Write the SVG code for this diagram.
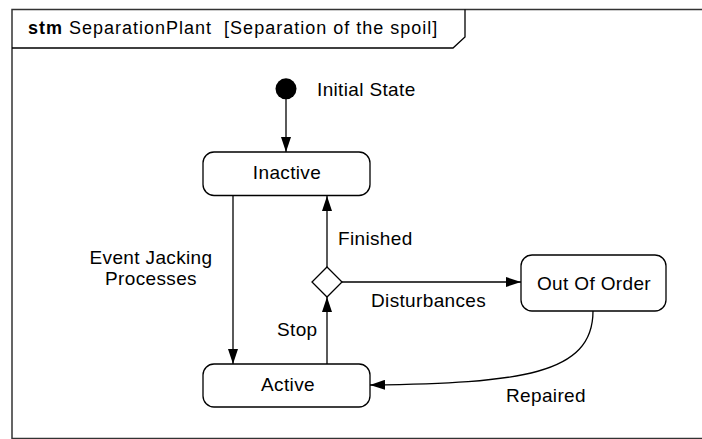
<svg xmlns="http://www.w3.org/2000/svg" width="702" height="439" viewBox="0 0 702 439">
  <style>
    .frame { fill: #ffffff; stroke: #333333; stroke-width: 1.5; }
    .state { fill: #ffffff; stroke: #000000; stroke-width: 1.3; }
    .edge { fill: none; stroke: #000000; stroke-width: 1.3; }
    .lbl { font-family: "Liberation Sans", Arial, sans-serif; font-size: 19px; letter-spacing: 0.35px; fill: #000000; }
    .title { font-family: "Liberation Sans", Arial, sans-serif; font-size: 18px; letter-spacing: 1px; fill: #000000; white-space: pre; }
    .mid { text-anchor: middle; }
  </style>
  <defs>
    <marker id="arrow" markerUnits="userSpaceOnUse" markerWidth="15" markerHeight="10" refX="15" refY="5" orient="auto">
      <path d="M0,0 L15,5 L0,10 z" fill="#000000"/>
    </marker>
  </defs>

  <rect width="702" height="439" fill="#ffffff"/>

  <!-- diagram frame with name tab -->
  <g id="frame">
    <rect class="frame" x="12" y="9.5" width="700" height="429"/>
    <path class="edge" d="M12,48 L453,48 L465,37 L465,9.5" stroke="#333333"/>
    <text class="title" x="28" y="34" xml:space="preserve"><tspan font-weight="bold">stm</tspan> SeparationPlant&#160; [Separation of the spoil]</text>
  </g>

  <!-- transitions -->
  <g id="connectors">
    <line class="edge" x1="286" y1="99" x2="286" y2="152" marker-end="url(#arrow)"/>
    <line class="edge" x1="233" y1="196" x2="233" y2="364" marker-end="url(#arrow)"/>
    <line class="edge" x1="327" y1="267" x2="327" y2="196" marker-end="url(#arrow)"/>
    <line class="edge" x1="327" y1="364" x2="327" y2="297" marker-end="url(#arrow)"/>
    <line class="edge" x1="342" y1="282" x2="521" y2="282" marker-end="url(#arrow)"/>
    <path class="edge" d="M593,311 C593,375 520,383 370,385" marker-end="url(#arrow)"/>
    <text class="lbl" x="317" y="96">Initial State</text>
    <text class="lbl mid" x="151" y="264">Event Jacking</text>
    <text class="lbl mid" x="151" y="285">Processes</text>
    <text class="lbl" x="338" y="245">Finished</text>
    <text class="lbl" x="371" y="307">Disturbances</text>
    <text class="lbl" x="277" y="336">Stop</text>
    <text class="lbl" x="506" y="402">Repaired</text>
  </g>

  <g id="initial">
    <circle cx="286" cy="88.8" r="10.5" fill="#000000"/>
  </g>

  <g id="inactive">
    <rect class="state" x="203" y="152" width="167" height="43.5" rx="11" ry="11"/>
    <text class="lbl mid" x="287" y="179">Inactive</text>
  </g>

  <g id="active">
    <rect class="state" x="203" y="364" width="167" height="43" rx="11" ry="11"/>
    <text class="lbl mid" x="288" y="391">Active</text>
  </g>

  <g id="decision">
    <polygon class="state" points="327,267 342,282 327,297 312,282"/>
  </g>

  <g id="outOfOrder">
    <rect class="state" x="521" y="255" width="145" height="56" rx="11" ry="11"/>
    <text class="lbl mid" x="594" y="290">Out Of Order</text>
  </g>
</svg>
